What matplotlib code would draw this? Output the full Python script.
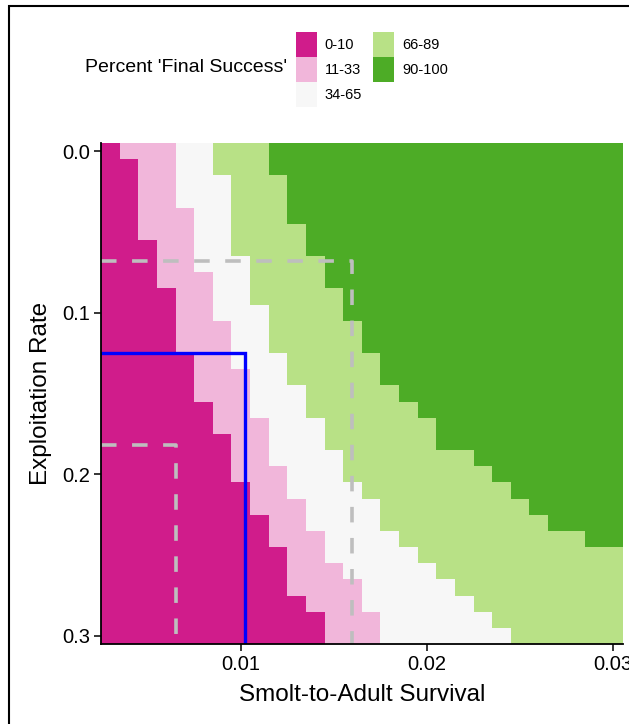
import numpy as np
import matplotlib.pyplot as plt
from matplotlib.colors import ListedColormap, BoundaryNorm
from matplotlib.patches import Patch, Rectangle

plt.rcParams['font.family'] = ['Liberation Sans', 'DejaVu Sans']

# grid of scenarios
survival = [0.003, 0.004, 0.005, 0.006, 0.007, 0.008, 0.009, 0.010, 0.011, 0.012,
            0.013, 0.014, 0.015, 0.016, 0.017, 0.018, 0.019, 0.020, 0.021, 0.022,
            0.023, 0.024, 0.025, 0.026, 0.027, 0.028, 0.029, 0.030]
exploitation = [0.00, 0.01, 0.02, 0.03, 0.04, 0.05, 0.06, 0.07, 0.08, 0.09, 0.10,
                0.11, 0.12, 0.13, 0.14, 0.15, 0.16, 0.17, 0.18, 0.19, 0.20,
                0.21, 0.22, 0.23, 0.24, 0.25, 0.26, 0.27, 0.28, 0.29, 0.30]

# per exploitation row: index of the first survival column in each class
start_11_33 = [1, 2, 2, 2, 2, 2, 3, 3, 3, 4, 4, 4, 4, 5, 5, 5, 6, 6, 7, 7, 7,
               8, 8, 9, 9, 10, 10, 10, 11, 12, 12]
start_34_65 = [4, 4, 4, 4, 5, 5, 5, 5, 6, 6, 6, 7, 7, 7, 8, 8, 8, 9, 9, 9, 10,
               10, 11, 11, 12, 12, 13, 14, 14, 15, 15]
start_66_89 = [6, 6, 7, 7, 7, 7, 7, 8, 8, 8, 9, 9, 9, 10, 10, 11, 11, 12, 12, 13, 13,
               14, 15, 15, 16, 17, 18, 19, 20, 21, 22]
start_90_100 = [9, 9, 10, 10, 10, 11, 11, 12, 12, 13, 13, 14, 14, 15, 15, 16, 17, 18, 18, 20, 21,
                22, 23, 24, 26, 28, 28, 28, 28, 28, 28]

class_labels = ['0-10', '11-33', '34-65', '66-89', '90-100']
class_colors = ['#D01C8B', '#F1B6DA', '#F7F7F7', '#B8E186', '#4DAC26']

# reference points (survival, exploitation)
ref_survival = [0.0065, 0.01025, 0.016]
ref_exploit = [0.182, 0.125, 0.068]
ref_colors = ['#BEBEBE', '#0000FF', '#BEBEBE']
ref_styles = ['dashed', 'solid', 'dashed']

# build class matrix
cols = np.arange(len(survival))
grid = np.zeros((len(exploitation), len(survival)), dtype=int)
for i in range(len(exploitation)):
    grid[i] = ((cols >= start_11_33[i]).astype(int) + (cols >= start_34_65[i])
               + (cols >= start_66_89[i]) + (cols >= start_90_100[i]))

W, H = 629, 724
fig = plt.figure(figsize=(W / 100, H / 100), dpi=100)
ax = fig.add_axes([101 / W, 80 / H, (622.6 - 101) / W, (644 - 143) / H])

cmap = ListedColormap(class_colors)
norm = BoundaryNorm(np.arange(-0.5, 5.5, 1), cmap.N)
ax.pcolormesh(survival, exploitation, grid, cmap=cmap, norm=norm,
              shading='nearest', antialiased=False, edgecolor='face', linewidth=0)
xlim = ax.get_xlim()
ylim = ax.get_ylim()

for sx, ey, c, ls in zip(ref_survival, ref_exploit, ref_colors, ref_styles):
    line, = ax.plot([xlim[0], sx, sx], [ey, ey, ylim[1]], color=c,
                    lw=2.6 if ls == 'dashed' else 2.4, solid_joinstyle='miter')
    if ls == 'dashed':
        line.set_dashes((4.3, 4.3))

ax.set_xlim(xlim)
ax.set_ylim(ylim[1], ylim[0])

ax.set_xticks([0.01, 0.02, 0.03])
ax.set_xticklabels(['0.01', '0.02', '0.03'])
ax.set_yticks([0.0, 0.1, 0.2, 0.3])
ax.set_yticklabels(['0.0', '0.1', '0.2', '0.3'])
ax.tick_params(labelsize=14.5, length=4.8, width=1.1, colors='black', pad=3.2)
for s in ['top', 'right']:
    ax.spines[s].set_visible(False)
for s in ['left', 'bottom']:
    ax.spines[s].set_linewidth(1.3)
ax.set_xlabel('Smolt-to-Adult Survival', fontsize=17.5, labelpad=7)
ax.set_ylabel('Exploitation Rate', fontsize=17.5, labelpad=7)

# legend
handles = [Patch(facecolor=c, edgecolor='none') for c in class_colors]
fs = 10.5
fs_px = fs * 100 / 72
fig.legend(handles, class_labels, ncol=2, loc='upper left',
           bbox_to_anchor=(295.7 / W, 1 - 32.3 / H), frameon=False,
           borderpad=0, borderaxespad=0, fontsize=fs, labelspacing=0,
           handlelength=21 / fs_px, handleheight=(25 / fs_px - 0.245) / 0.65,
           handletextpad=0.55, columnspacing=0.75)
fig.text(287 / W, 1 - 68 / H, "Percent 'Final Success'", ha='right', va='center',
         fontsize=14)

# outer frame
fig.patches.append(Rectangle((9 / W, -0.1), 1.2, 1.1 - 6 / H, transform=fig.transFigure,
                             fill=False, edgecolor='black', lw=1.5))

fig.savefig('out.png', dpi=100)
